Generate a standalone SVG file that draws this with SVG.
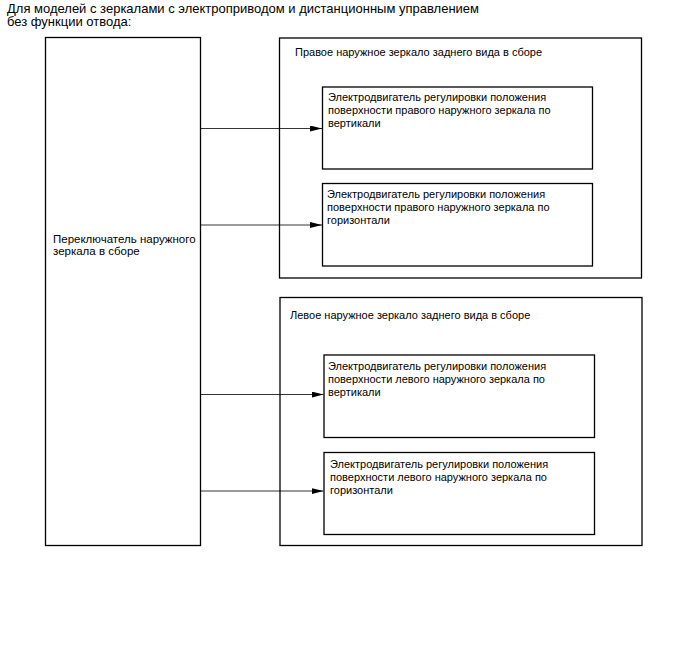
<svg xmlns="http://www.w3.org/2000/svg" width="688" height="658" viewBox="0 0 688 658">
<style>
.box{fill:#fff;stroke:#000;stroke-width:1.3}
.t{font-family:"Liberation Sans",Arial,sans-serif;font-size:11px;fill:#000}
.h{font-family:"Liberation Sans",Arial,sans-serif;font-size:13px;fill:#000}
.c{stroke:#000;stroke-width:0.8;fill:none}
</style>
<defs>
<marker id="arr" markerWidth="12" markerHeight="6" refX="12" refY="3" orient="auto" markerUnits="userSpaceOnUse">
<path d="M0,0 L12,3 L0,6 Z" fill="#000"/>
</marker>
</defs>
<rect width="688" height="658" fill="#fff"/>
<g id="header">
<text class="h" x="7" y="12.5">Для моделей с зеркалами с электроприводом и дистанционным управлением</text>
<text class="h" x="7" y="26">без функции отвода:</text>
</g>
<g id="switch">
<rect class="box" x="45.5" y="37.5" width="155" height="508"/>
<text class="t" x="53" y="243" style="font-size:11.5px">Переключатель наружного</text>
<text class="t" x="53" y="255" style="font-size:11.5px">зеркала в сборе</text>
</g>
<g id="right-mirror">
<rect class="box" x="279.5" y="38" width="362" height="240"/>
<text class="t" x="295" y="56">Правое наружное зеркало заднего вида в сборе</text>
</g>
<g id="right-vertical">
<rect class="box" x="322.5" y="87" width="270" height="82"/>
<text class="t" x="328" y="101">Электродвигатель регулировки положения</text>
<text class="t" x="328" y="114">поверхности правого наружного зеркала по</text>
<text class="t" x="328" y="127">вертикали</text>
</g>
<g id="right-horizontal">
<rect class="box" x="322.5" y="183.5" width="270" height="82.5"/>
<text class="t" x="327" y="198">Электродвигатель регулировки положения</text>
<text class="t" x="327" y="211">поверхности правого наружного зеркала по</text>
<text class="t" x="327" y="224">горизонтали</text>
</g>
<g id="left-mirror">
<rect class="box" x="280" y="297.5" width="362" height="248"/>
<text class="t" x="290" y="319">Левое наружное зеркало заднего вида в сборе</text>
</g>
<g id="left-vertical">
<rect class="box" x="324" y="355" width="270.5" height="82.5"/>
<text class="t" x="328" y="370">Электродвигатель регулировки положения</text>
<text class="t" x="328" y="383">поверхности левого наружного зеркала по</text>
<text class="t" x="328" y="396">вертикали</text>
</g>
<g id="left-horizontal">
<rect class="box" x="324" y="452.5" width="270.5" height="82"/>
<text class="t" x="330" y="468">Электродвигатель регулировки положения</text>
<text class="t" x="330" y="481">поверхности левого наружного зеркала по</text>
<text class="t" x="330" y="494">горизонтали</text>
</g>
<g id="connectors">
<line class="c" x1="201" y1="128.5" x2="322" y2="128.5" marker-end="url(#arr)"/>
<line class="c" x1="201" y1="225" x2="322" y2="225" marker-end="url(#arr)"/>
<line class="c" x1="201" y1="394.5" x2="323.5" y2="394.5" marker-end="url(#arr)"/>
<line class="c" x1="201" y1="491" x2="323.5" y2="491" marker-end="url(#arr)"/>
</g>
</svg>
